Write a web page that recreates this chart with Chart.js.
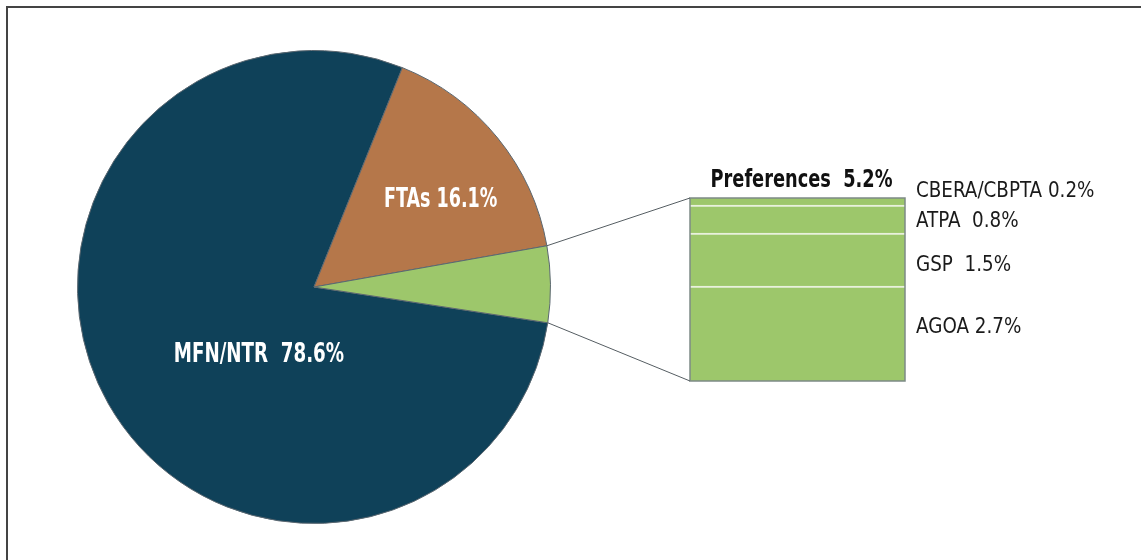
<!DOCTYPE html>
<html lang="en">
<head>
    <meta charset="UTF-8">
    <title>Imports by program</title>
    <script src="https://cdn.jsdelivr.net/npm/chart.js@4.4.1/dist/chart.umd.min.js"></script>
    <style>
        body { margin: 0; background: #fff; }
        #wrap { position: relative; width: 1141px; height: 560px; overflow: hidden; }
        #wrap canvas { position: absolute; left: 0; top: 0; }
        #frame { position: absolute; left: 6px; top: 6px; width: 1200px; height: 600px;
                 border-top: 2px solid #444; border-left: 2px solid #444; }
    </style>
</head>
<body>
<div id="wrap">
    <div id="frame"></div>
    <canvas id="pieChart" width="1141" height="560"></canvas>
    <canvas id="barChart" width="1141" height="560"></canvas>
</div>
<script>
    // pie: share of imports
    const pieLabels = ["MFN/NTR", "FTAs", "Preferences"];
    const pieValues = [78.6, 16.1, 5.2];
    const pieColors = ["#0f4159", "#b5774a", "#9dc76b"];

    // breakdown of preferences, bottom to top
    const prefLabels = ["AGOA", "GSP", "ATPA", "CBERA/CBPTA"];
    const prefValues = [2.7, 1.5, 0.8, 0.2];
    const prefTotal = 5.2;

    const condensed = '"Liberation Sans Narrow", "DejaVu Sans Condensed", "Arial Narrow", sans-serif';

    // bold labels in the original are a condensed face, squeeze them a bit
    function squeezedText(ctx, text, x, y, sx) {
        ctx.save();
        ctx.translate(x, y);
        ctx.scale(sx, 1);
        ctx.fillText(text, 0, 0);
        ctx.restore();
    }

    // label position inside the pie: [angle in degrees, fraction of radius]
    const pieLabelSpots = [[129, 0.37], [-34.5, 0.65], null];

    const pieText = {
        id: 'pieText',
        afterDraw(chart) {
            const ctx = chart.ctx;
            const arcs = chart.getDatasetMeta(0).data;
            ctx.save();
            ctx.fillStyle = '#ffffff';
            ctx.font = 'bold 26px ' + condensed;
            ctx.textAlign = 'center';
            ctx.textBaseline = 'middle';
            arcs.forEach((arc, i) => {
                const spot = pieLabelSpots[i];
                if (!spot) return;
                const a = spot[0] * Math.PI / 180;
                const r = arc.outerRadius * spot[1];
                const gap = i === 0 ? '  ' : ' ';
                squeezedText(ctx, pieLabels[i] + gap + pieValues[i].toFixed(1) + '%',
                    arc.x + Math.cos(a) * r, arc.y + Math.sin(a) * r, i === 0 ? 0.78 : 0.75);
            });
            ctx.restore();
        }
    };

    const pieChart = new Chart(document.getElementById('pieChart'), {
        type: 'pie',
        data: {
            labels: pieLabels,
            datasets: [{
                data: pieValues,
                backgroundColor: pieColors,
                borderColor: '#5b6770',
                borderWidth: 1
            }]
        },
        options: {
            responsive: false,
            animation: false,
            rotation: 98.7,
            layout: { padding: { left: 77, right: 590, top: 50, bottom: 36 } },
            plugins: { legend: { display: false }, tooltip: { enabled: false } }
        },
        plugins: [pieText]
    });

    const labelNudge = [-6, 6, 2, -10];

    const barExtras = {
        id: 'barExtras',
        afterDraw(chart) {
            const ctx = chart.ctx;
            const first = chart.getDatasetMeta(0).data[0];
            const last = chart.getDatasetMeta(prefValues.length - 1).data[0];
            const left = first.x - first.width / 2;
            const right = first.x + first.width / 2;
            const top = last.y;
            const bottom = first.base;

            ctx.save();
            // outline of the bar
            ctx.strokeStyle = '#7d8a86';
            ctx.lineWidth = 1.5;
            ctx.strokeRect(left, top, right - left, bottom - top);

            // connectors from the preferences slice
            const arc = pieChart.getDatasetMeta(0).data[2];
            const R = arc.outerRadius;
            ctx.strokeStyle = '#555d62';
            ctx.lineWidth = 1;
            ctx.beginPath();
            ctx.moveTo(arc.x + Math.cos(arc.startAngle) * R, arc.y + Math.sin(arc.startAngle) * R);
            ctx.lineTo(left, top);
            ctx.moveTo(arc.x + Math.cos(arc.endAngle) * R, arc.y + Math.sin(arc.endAngle) * R);
            ctx.lineTo(left, bottom);
            ctx.stroke();

            // title above the bar
            ctx.fillStyle = '#111';
            ctx.font = 'bold 25px ' + condensed;
            ctx.textAlign = 'center';
            ctx.textBaseline = 'middle';
            squeezedText(ctx, 'Preferences  ' + prefTotal.toFixed(1) + '%', first.x + 4, top - 18, 0.79);

            // segment labels
            ctx.font = '21px ' + condensed;
            ctx.textAlign = 'left';
            ctx.fillStyle = '#1a1a1a';
            prefLabels.forEach((lab, i) => {
                const el = chart.getDatasetMeta(i).data[0];
                const mid = (el.y + el.base) / 2;
                const gap = (i === 1 || i === 2) ? '  ' : ' ';
                squeezedText(ctx, lab + gap + prefValues[i].toFixed(1) + '%', right + 11, mid + labelNudge[i], 0.97);
            });
            ctx.restore();
        }
    };

    new Chart(document.getElementById('barChart'), {
        type: 'bar',
        data: {
            labels: ['Preferences'],
            datasets: prefLabels.map((lab, i) => ({
                label: lab,
                data: [prefValues[i]],
                backgroundColor: '#9dc76b',
                borderColor: '#e9f1dc',
                borderWidth: i < prefLabels.length - 1 ? { top: 2, left: 0, right: 0, bottom: 0 } : 0,
                borderSkipped: false,
                barPercentage: 1,
                categoryPercentage: 1
            }))
        },
        options: {
            responsive: false,
            animation: false,
            layout: { padding: { left: 690, right: 236, top: 198, bottom: 179 } },
            scales: {
                x: { stacked: true, display: false },
                y: { stacked: true, display: false, min: 0, max: prefTotal }
            },
            plugins: { legend: { display: false }, tooltip: { enabled: false } }
        },
        plugins: [barExtras]
    });
</script>
</body>
</html>
